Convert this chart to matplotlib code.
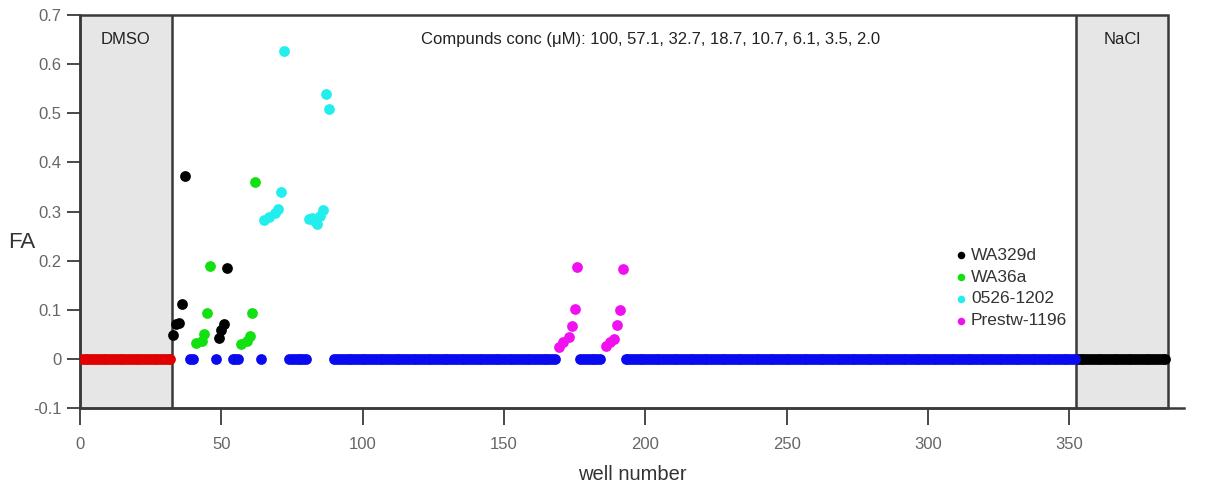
import matplotlib
matplotlib.use('Agg')
import matplotlib.pyplot as plt
from matplotlib.patches import Rectangle

plt.rcParams['font.family'] = ['Liberation Sans', 'DejaVu Sans']

# ---------------------------------------------
# DATA

# controls
dmso_wells = list(range(1, 33))
nacl_wells = list(range(353, 385))

# inactive compound wells (FA = 0)
blue_wells = ([39, 40, 48, 54, 55, 56, 64] + list(range(74, 81)) + list(range(90, 169))
              + list(range(177, 185)) + list(range(193, 353)))

# active compounds (two replicate series each)
wa329d_wells = [33, 34, 35, 36, 37, 49, 50, 51, 52]
wa329d_fa = [0.048, 0.070, 0.073, 0.111, 0.373, 0.043, 0.058, 0.070, 0.185]

wa36a_wells = [41, 43, 44, 45, 46, 57, 59, 60, 61, 62]
wa36a_fa = [0.032, 0.037, 0.050, 0.094, 0.190, 0.031, 0.037, 0.046, 0.094, 0.360]

c0526_wells = [65, 67, 69, 70, 71, 72, 81, 82, 83, 84, 85, 86, 87, 88]
c0526_fa = [0.282, 0.289, 0.297, 0.306, 0.340, 0.626, 0.284, 0.286, 0.280, 0.275, 0.290, 0.304, 0.539, 0.508]

prestw_wells = [169.5, 171, 173, 174, 175, 176, 186, 187.5, 189, 190, 191, 192]
prestw_fa = [0.024, 0.034, 0.044, 0.066, 0.102, 0.187, 0.027, 0.034, 0.041, 0.069, 0.099, 0.182]

dmso_end = 32.5
nacl_start = 352.5
plate_end = 385

x_ticks = [0, 50, 100, 150, 200, 250, 300, 350, 400]
y_ticks = [-0.1, 0, 0.1, 0.2, 0.3, 0.4, 0.5, 0.6, 0.7]
y_labels = ['-0.1', '0', '0.1', '0.2', '0.3', '0.4', '0.5', '0.6', '0.7']

conc_text = 'Compunds conc (\u03bcM): 100, 57.1, 32.7, 18.7, 10.7, 6.1, 3.5, 2.0'

# ---------------------------------------------
# PLOT
fig = plt.figure(figsize=(12.05, 4.87), dpi=100)
ax = fig.add_axes([0.0664, 0.1622, 0.9162, 0.807])

# control regions
ax.axvspan(0, dmso_end, color='#e6e6e6', zorder=0)
ax.axvspan(nacl_start, plate_end, color='#e6e6e6', zorder=0)
ax.add_patch(Rectangle((0, -0.1), plate_end, 0.8, fill=False, edgecolor='#3a3a3a',
                       lw=1.8, zorder=1, clip_on=False))
ax.axvline(dmso_end, color='#3a3a3a', lw=1.8, zorder=1)
ax.axvline(nacl_start, color='#3a3a3a', lw=1.8, zorder=1)

s = 60
ax.scatter(dmso_wells, [0] * len(dmso_wells), s=s, color='#e00000', lw=0, zorder=3)
ax.scatter(nacl_wells, [0] * len(nacl_wells), s=s, color='black', lw=0, zorder=3)
ax.scatter(blue_wells, [0] * len(blue_wells), s=s, color='#0a0aee', lw=0, zorder=3)

ax.scatter(wa329d_wells, wa329d_fa, s=s, color='black', lw=0, zorder=4, label='WA329d')
ax.scatter(wa36a_wells, wa36a_fa, s=s, color='#11e011', lw=0, zorder=4, label='WA36a')
ax.scatter(c0526_wells, c0526_fa, s=s, color='#22eeee', lw=0, zorder=4, label='0526-1202')
ax.scatter(prestw_wells, prestw_fa, s=s, color='#f010f0', lw=0, zorder=4, label='Prestw-1196')

# texts
ax.text(dmso_end / 2, 0.65, 'DMSO', ha='center', va='center', fontsize=12, color='#222222')
ax.text((nacl_start + plate_end) / 2, 0.65, 'NaCl', ha='center', va='center', fontsize=12, color='#222222')
ax.text(202, 0.65, conc_text, ha='center', va='center', fontsize=12, color='#222222')

ax.legend(loc='upper left', bbox_to_anchor=(0.785, 0.43), frameon=False, fontsize=12.5,
          handlelength=0.6, handletextpad=0.3, labelspacing=0.38, borderpad=0,
          markerscale=0.7, labelcolor='#333333')

# axes
for side in ['top', 'right']:
    ax.spines[side].set_visible(False)
for side in ['left', 'bottom']:
    ax.spines[side].set_color('#3a3a3a')
    ax.spines[side].set_linewidth(1.8)

ax.set_xticks(x_ticks)
ax.set_yticks(y_ticks)
ax.set_yticklabels(y_labels)
ax.set_xlim(0, 390.6)
ax.set_ylim(-0.1, 0.7)
ax.tick_params(axis='x', direction='out', length=12, width=1.3, color='#3a3a3a',
               labelsize=12, labelcolor='#666666', pad=9)
ax.tick_params(axis='y', direction='out', length=9.5, width=1.3, color='#3a3a3a',
               labelsize=12, labelcolor='#666666', pad=4)

ax.set_xlabel('well number', fontsize=14.5, color='#333333', labelpad=9)
ax.text(-0.053, 0.42, 'FA', transform=ax.transAxes, ha='center', va='center',
        fontsize=16, color='#333333')

plt.savefig('out.png', dpi=100)
